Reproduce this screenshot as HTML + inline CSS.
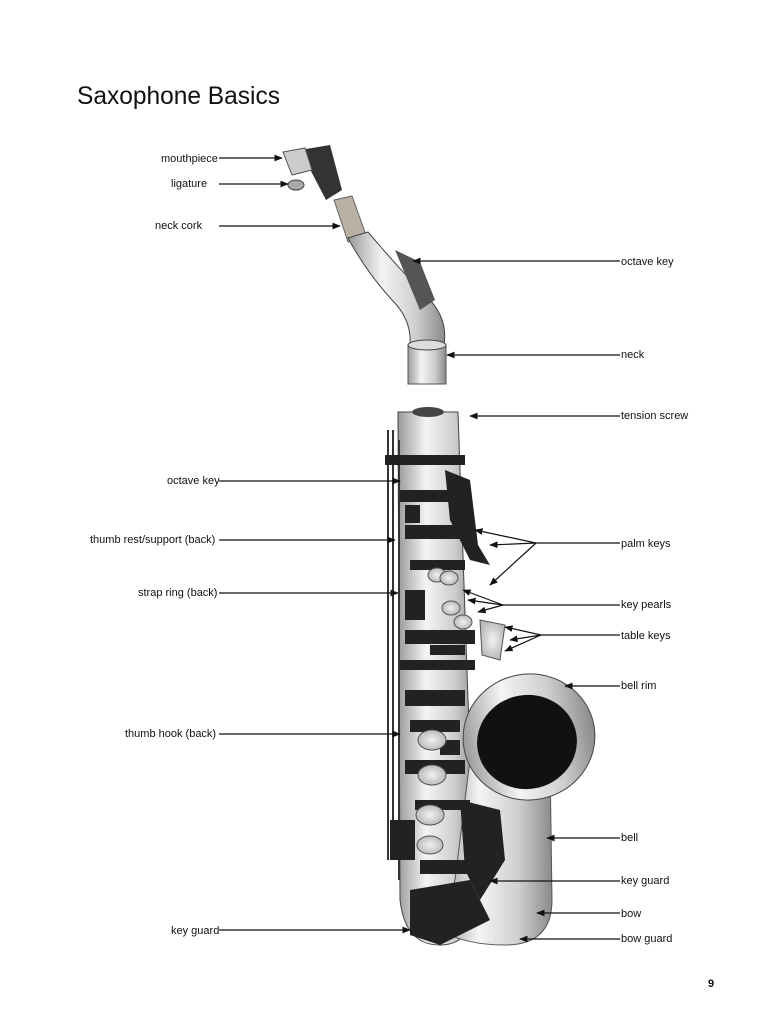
<!DOCTYPE html>
<html><head><meta charset="utf-8"><style>
html,body{margin:0;padding:0;background:#fff;}
body{width:768px;height:1024px;position:relative;overflow:hidden;font-family:"Liberation Sans",sans-serif;}
svg{position:absolute;left:0;top:0;}
</style></head><body>
<svg width="768" height="1024" viewBox="0 0 768 1024" xmlns="http://www.w3.org/2000/svg">
<defs>
<linearGradient id="silver" x1="0" x2="1" y1="0" y2="0">
<stop offset="0" stop-color="#9a9a9a"/><stop offset="0.35" stop-color="#f4f4f4"/><stop offset="0.7" stop-color="#cfcfcf"/><stop offset="1" stop-color="#8a8a8a"/></linearGradient>
<radialGradient id="pearl"><stop offset="0" stop-color="#f2f2f2"/><stop offset="1" stop-color="#bbb"/></radialGradient>
<marker id="ah" viewBox="0 0 10 10" refX="9" refY="5" markerWidth="7" markerHeight="7" orient="auto"><path d="M0,1 L10,5 L0,9 z" fill="#111"/></marker>
</defs>
<text x="77" y="104" font-size="25" fill="#111" textLength="203" lengthAdjust="spacingAndGlyphs">Saxophone Basics</text>

<!-- neck assembly -->
<path d="M300,150 L330,145 L342,190 L326,200 Z" fill="#333"/>
<path d="M283,152 L305,148 L312,170 L292,175 Z" fill="#ccc" stroke="#555"/>
<ellipse cx="296" cy="185" rx="8" ry="5" fill="#aaa" stroke="#444"/>
<path d="M334,200 L352,196 L366,235 L348,242 Z" fill="#b8b0a0" stroke="#666"/>
<path d="M348,238 L368,232 Q400,270 430,300 Q448,320 444,345 L410,345 Q412,320 392,300 Q365,270 348,238 Z" fill="url(#silver)" stroke="#444"/>
<path d="M395,250 L420,262 L435,300 L420,310 Z" fill="#555"/>
<path d="M408,345 L446,345 L446,384 L408,384 Z" fill="url(#silver)" stroke="#555"/>
<ellipse cx="427" cy="345" rx="19" ry="5" fill="#ddd" stroke="#444"/>

<!-- body tube -->
<path d="M398,412 L458,412 L468,700 L478,880 Q480,945 440,945 Q405,945 400,900 Z" fill="url(#silver)" stroke="#444"/>
<ellipse cx="428" cy="412" rx="16" ry="5" fill="#444"/>
<path d="M470,760 L550,760 L552,900 Q552,945 505,945 Q465,945 440,930 L455,880 Z" fill="url(#silver)" stroke="#555"/>
<g stroke="#333" stroke-width="2">
<line x1="388" y1="430" x2="388" y2="860"/><line x1="393" y1="430" x2="393" y2="860"/><line x1="399" y1="440" x2="399" y2="880"/>
</g>
<g fill="#222">
<rect x="385" y="455" width="80" height="10"/><rect x="400" y="490" width="65" height="12"/>
<rect x="405" y="525" width="60" height="14"/><rect x="410" y="560" width="55" height="10"/>
<rect x="405" y="630" width="70" height="14"/><rect x="400" y="660" width="75" height="10"/>
<rect x="405" y="690" width="60" height="16"/><rect x="410" y="720" width="50" height="12"/>
<rect x="405" y="760" width="60" height="14"/><rect x="415" y="800" width="55" height="10"/>
<rect x="390" y="820" width="25" height="40"/><rect x="420" y="860" width="60" height="14"/>
<rect x="405" y="590" width="20" height="30"/><rect x="430" y="645" width="35" height="10"/>
<rect x="405" y="505" width="15" height="18"/><rect x="440" y="740" width="20" height="15"/>
<path d="M410,890 L470,880 L490,920 L440,945 L410,935 Z"/>
<path d="M460,800 L500,810 L505,860 L480,900 L465,870 Z"/>
<path d="M445,470 L470,480 L478,545 L490,565 L470,560 L450,520 Z"/>
</g>
<g fill="url(#pearl)" stroke="#555">
<ellipse cx="437" cy="575" rx="9" ry="7"/><ellipse cx="449" cy="578" rx="9" ry="7"/>
<ellipse cx="451" cy="608" rx="9" ry="7"/><ellipse cx="463" cy="622" rx="9" ry="7"/>
<ellipse cx="432" cy="740" rx="14" ry="10"/><ellipse cx="432" cy="775" rx="14" ry="10"/>
<ellipse cx="430" cy="815" rx="14" ry="10"/><ellipse cx="430" cy="845" rx="13" ry="9"/>
<path d="M480,620 L505,625 L500,660 L482,655 Z"/>
</g>
<ellipse cx="529" cy="737" rx="66" ry="63" fill="url(#silver)" stroke="#444" transform="rotate(-10 529 737)"/>
<ellipse cx="527" cy="742" rx="50" ry="47" fill="#111" transform="rotate(-10 527 742)"/>

<g stroke="#111" stroke-width="1.2" fill="none" marker-end="url(#ah)">
<line x1="219" y1="158" x2="282" y2="158"/>
<line x1="219" y1="184" x2="288" y2="184"/>
<line x1="219" y1="226" x2="340" y2="226"/>
<line x1="620" y1="261" x2="413" y2="261"/>
<line x1="620" y1="355" x2="447" y2="355"/>
<line x1="620" y1="416" x2="470" y2="416"/>
<line x1="219" y1="481" x2="400" y2="481"/>
<line x1="219" y1="540" x2="395" y2="540"/>
<line x1="219" y1="593" x2="398" y2="593"/>
<line x1="536" y1="543" x2="475" y2="530"/>
<line x1="536" y1="543" x2="490" y2="545"/>
<line x1="536" y1="543" x2="490" y2="585"/>
<line x1="503" y1="605" x2="463" y2="590"/>
<line x1="503" y1="605" x2="468" y2="600"/>
<line x1="503" y1="605" x2="478" y2="612"/>
<line x1="541" y1="635" x2="505" y2="627"/>
<line x1="541" y1="635" x2="510" y2="640"/>
<line x1="541" y1="635" x2="505" y2="651"/>
<line x1="620" y1="686" x2="565" y2="686"/>
<line x1="219" y1="734" x2="400" y2="734"/>
<line x1="620" y1="838" x2="547" y2="838"/>
<line x1="620" y1="881" x2="490" y2="881"/>
<line x1="620" y1="913" x2="537" y2="913"/>
<line x1="620" y1="939" x2="520" y2="939"/>
<line x1="219" y1="930" x2="410" y2="930"/>
</g>
<g stroke="#111" stroke-width="1.2">
<line x1="536" y1="543" x2="620" y2="543"/>
<line x1="503" y1="605" x2="620" y2="605"/>
<line x1="541" y1="635" x2="620" y2="635"/>
</g>

<g font-size="11" fill="#111">
<text x="161" y="162">mouthpiece</text>
<text x="171" y="187">ligature</text>
<text x="155" y="229">neck cork</text>
<text x="621" y="265">octave key</text>
<text x="621" y="358">neck</text>
<text x="621" y="419">tension screw</text>
<text x="167" y="484">octave key</text>
<text x="90" y="543">thumb rest/support (back)</text>
<text x="621" y="547">palm keys</text>
<text x="138" y="596">strap ring (back)</text>
<text x="621" y="608">key pearls</text>
<text x="621" y="639">table keys</text>
<text x="621" y="689">bell rim</text>
<text x="125" y="737">thumb hook (back)</text>
<text x="621" y="841">bell</text>
<text x="621" y="884">key guard</text>
<text x="621" y="917">bow</text>
<text x="621" y="942">bow guard</text>
<text x="171" y="934">key guard</text>
<text x="708" y="987" font-weight="bold">9</text>
</g>
</svg>
</body></html>
